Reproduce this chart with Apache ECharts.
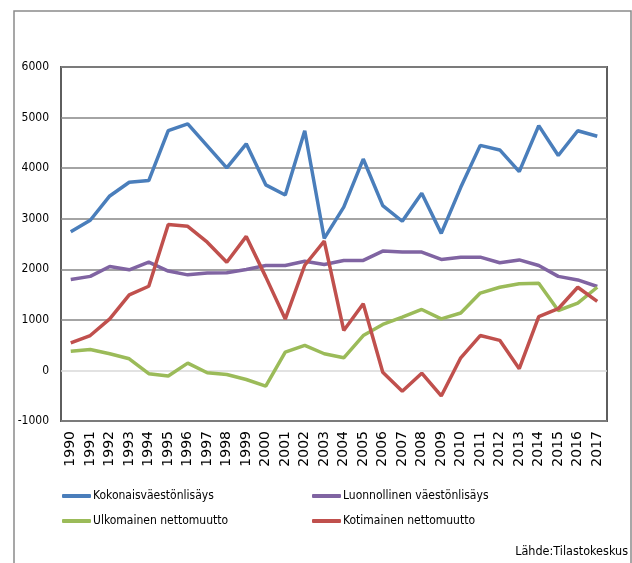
<!DOCTYPE html>
<html>
<head>
<meta charset="utf-8">
<script src="https://cdn.jsdelivr.net/npm/echarts@6/dist/echarts.min.js"></script>
<style>
  html, body { margin: 0; padding: 0; background: #fff; }
  #chart { width: 632px; height: 563px; }
</style>
</head>
<body>
<div id="chart"></div>
<script>
// vuodet ja sarjat (luettu kuvasta)
const years = ['1990', '1991', '1992', '1993', '1994', '1995', '1996', '1997', '1998', '1999',
  '2000', '2001', '2002', '2003', '2004', '2005', '2006', '2007', '2008', '2009',
  '2010', '2011', '2012', '2013', '2014', '2015', '2016', '2017'];

const kokonais = [2740, 2970, 3450, 3720, 3755, 4740, 4875, 4440, 4005, 4480,
  3670, 3470, 4740, 2610, 3230, 4180, 3260, 2950, 3505, 2710,
  3620, 4450, 4360, 3930, 4840, 4250, 4740, 4630];

const luonnollinen = [1800, 1860, 2055, 1990, 2140, 1965, 1890, 1925, 1930, 1995,
  2075, 2075, 2160, 2095, 2175, 2175, 2360, 2340, 2340, 2195,
  2240, 2240, 2130, 2185, 2075, 1860, 1790, 1660];

const ulkomainen = [380, 415, 330, 230, -65, -110, 145, -45, -80, -180,
  -310, 360, 495, 330, 250, 690, 910, 1055, 1205, 1020,
  1135, 1530, 1645, 1715, 1725, 1185, 1330, 1645];

const kotimainen = [545, 690, 1020, 1495, 1665, 2885, 2850, 2535, 2140, 2650,
  1850, 1015, 2080, 2555, 790, 1320, -35, -410, -55, -505,
  250, 690, 595, 35, 1065, 1220, 1645, 1365];

const seriesNames = ['Kokonaisväestönlisäys', 'Luonnollinen väestönlisäys', 'Ulkomainen nettomuutto', 'Kotimainen nettomuutto'];
const seriesColors = ['#4a7ebb', '#8064a2', '#9bbb59', '#c0504d'];
const seriesData = [kokonais, luonnollinen, ulkomainen, kotimainen];

// kapea fontti (Calibrin tapainen)
const narrow = '"DejaVu Sans Condensed", "Liberation Sans Narrow", "Arial Narrow", Roboto, sans-serif';

// yksi legenda per sarja, jotta sijainnit osuvat kahteen sarakkeeseen
const legendPos = [
  { left: 57, top: 485 },
  { left: 307, top: 485 },
  { left: 57, top: 510 },
  { left: 307, top: 510 }
];

const chart = echarts.init(document.getElementById('chart'));

const option = {
  animation: false,
  backgroundColor: '#fff',
  grid: {
    left: 61,
    right: 25,
    top: 67,
    bottom: 142,
    show: true,
    borderColor: '#5e5e5e',
    borderWidth: 2
  },
  legend: seriesNames.map((name, i) => ({
    data: [name],
    left: legendPos[i].left,
    top: legendPos[i].top,
    icon: 'roundRect',
    itemWidth: 29,
    itemHeight: 4,
    selectedMode: false,
    textStyle: { fontFamily: narrow, fontSize: 12, color: '#000', padding: [0, 0, 0, -3] }
  })),
  xAxis: {
    type: 'category',
    data: years,
    boundaryGap: true,
    axisLine: { show: false },
    axisTick: { show: false },
    axisLabel: {
      rotate: 90,
      margin: 10,
      interval: 0,
      color: '#000',
      fontFamily: '"DejaVu Sans", sans-serif',
      fontSize: 14
    }
  },
  yAxis: {
    type: 'value',
    min: -1000,
    max: 6000,
    interval: 1000,
    axisLine: { show: false },
    axisTick: { show: false },
    axisLabel: {
      margin: 12,
      color: '#000',
      fontFamily: narrow,
      fontSize: 12,
      formatter: v => String(v)
    },
    splitLine: {
      lineStyle: {
        // nollaviiva vaalea, muut tummanharmaat
        color: ['#868686', '#d9d9d9', '#868686', '#868686', '#868686', '#868686', '#868686', '#868686'],
        width: 1.5
      }
    }
  },
  series: seriesNames.map((name, i) => ({
    name: name,
    type: 'line',
    data: seriesData[i],
    symbol: 'none',
    color: seriesColors[i],
    lineStyle: { width: 3.5, color: seriesColors[i] },
    z: 3
  })),
  graphic: [
    {
      type: 'rect',
      shape: { x: 14, y: 11, width: 617, height: 600 },
      style: { fill: 'none', stroke: '#8a8a8a', lineWidth: 1.5 },
      silent: true
    },
    {
      type: 'text',
      right: 4,
      top: 545,
      style: {
        text: 'Lähde:Tilastokeskus',
        fontFamily: narrow,
        fontSize: 12.5,
        fill: '#000'
      }
    }
  ]
};

chart.setOption(option);
</script>
</body>
</html>
